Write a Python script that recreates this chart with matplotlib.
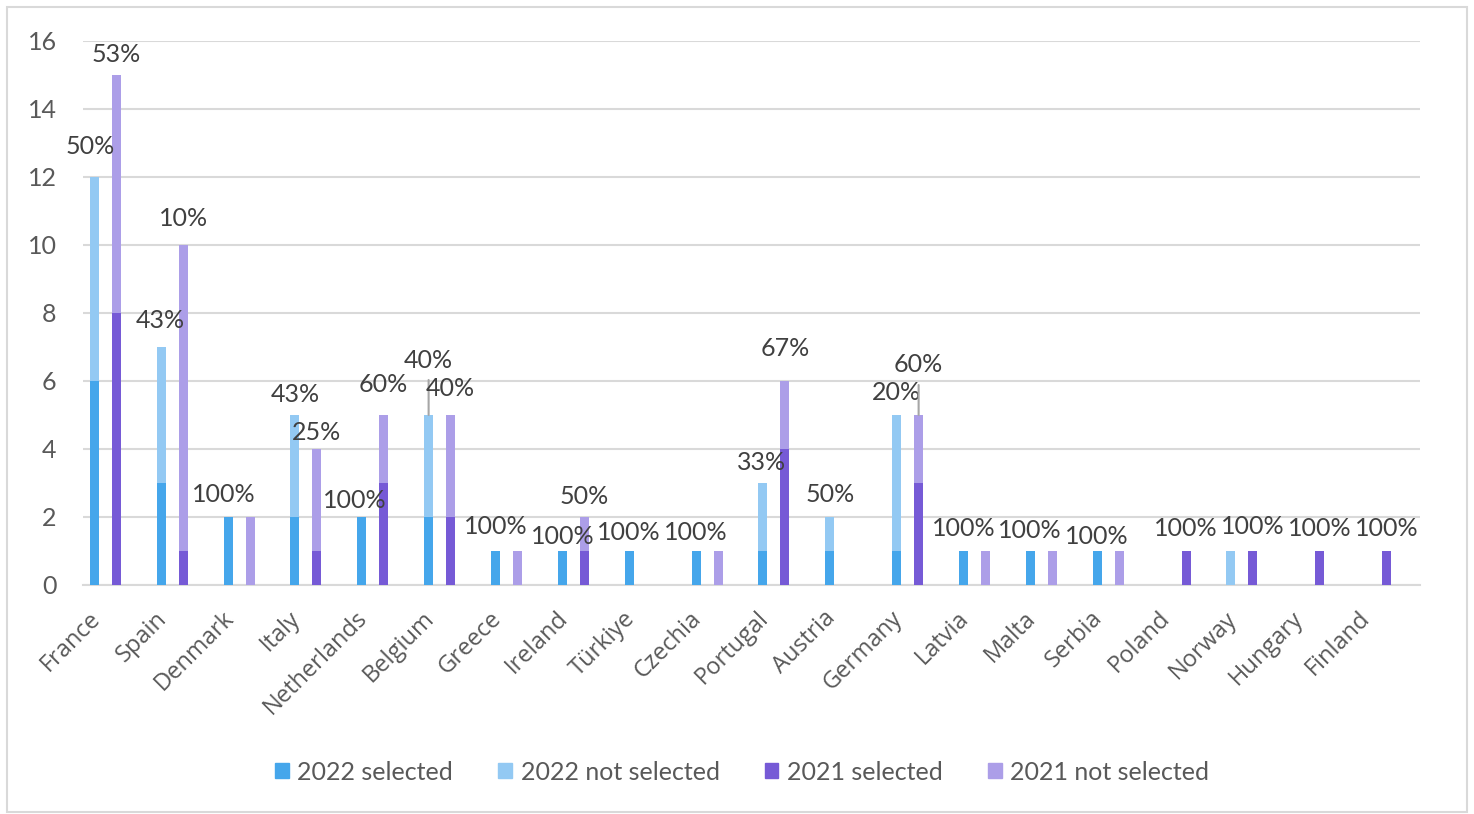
import matplotlib
matplotlib.use("Agg")
import matplotlib.pyplot as plt
import matplotlib.patches as mpatches
import numpy as np

countries = ["France", "Spain", "Denmark", "Italy", "Netherlands", "Belgium",
             "Greece", "Ireland", "Türkiye", "Czechia", "Portugal", "Austria",
             "Germany", "Latvia", "Malta", "Serbia", "Poland", "Norway",
             "Hungary", "Finland"]

sel_2022 = [6, 3, 2, 2, 2, 2, 1, 1, 1, 1, 1, 1, 1, 1, 1, 1, 0, 0, 0, 0]
not_2022 = [6, 4, 0, 3, 0, 3, 0, 0, 0, 0, 2, 1, 4, 0, 0, 0, 0, 1, 0, 0]
sel_2021 = [8, 1, 0, 1, 3, 2, 0, 1, 0, 0, 4, 0, 3, 0, 0, 0, 1, 1, 1, 1]
not_2021 = [7, 9, 2, 3, 2, 3, 1, 1, 0, 1, 2, 0, 2, 1, 1, 1, 0, 0, 0, 0]

labels_2022 = ["50%", "43%", "100%", "43%", "100%", "40%", "100%", "100%", "100%", "100%",
               "33%", "50%", "20%", "100%", "100%", "100%", "", "", "", ""]
labels_2021 = ["53%", "10%", "", "25%", "60%", "40%", "", "50%", "", "",
               "67%", "", "60%", "", "", "", "100%", "100%", "100%", "100%"]

# label offsets from bar top, in pixels (dx, dy)
off_2022 = [(-4, 30), (-1, 27), (-4, 22), (0, 20), (-7, 17), (0, 55), (0, 24), (0, 14),
            (0, 19), (0, 19), (-1, 20), (0, 23), (0, 23), (0, 22), (0, 21), (0, 14),
            (0, 0), (0, 0), (0, 0), (0, 0)]
off_2021 = [(0, 21), (0, 27), (0, 0), (0, 17), (-1, 30), (0, 26), (0, 0), (0, 20),
            (0, 0), (0, 0), (0, 32), (0, 0), (0, 50), (0, 0), (0, 0), (0, 0),
            (0, 22), (0, 24), (0, 22), (0, 22)]
leader_2022 = [5]
leader_2021 = [12]

C_SEL22 = "#45A6EB"
C_NOT22 = "#93C9F3"
C_SEL21 = "#765AD6"
C_NOT21 = "#AC9EE8"
TXT = "#404040"
AX_TXT = "#595959"
GRID = "#D9D9D9"

W, H = 1474, 814
fig = plt.figure(figsize=(W / 100, H / 100), dpi=100)
ax = fig.add_axes([83 / W, (H - 585) / H, (1420 - 83) / W, (585 - 41) / H])

x = np.arange(len(countries))
bw = 0.135
x22 = x - 0.33
x21 = x

ax.bar(x22, sel_2022, bw, color=C_SEL22, zorder=3, label="2022 selected")
ax.bar(x22, not_2022, bw, bottom=sel_2022, color=C_NOT22, zorder=3, label="2022 not selected")
ax.bar(x21, sel_2021, bw, color=C_SEL21, zorder=3, label="2021 selected")
ax.bar(x21, not_2021, bw, bottom=sel_2021, color=C_NOT21, zorder=3, label="2021 not selected")

tot22 = np.array(sel_2022) + np.array(not_2022)
tot21 = np.array(sel_2021) + np.array(not_2021)

pct_font = dict(family="Lato", fontsize=18, color=TXT)
for xs, tots, labs, offs, leaders in [(x22, tot22, labels_2022, off_2022, leader_2022),
                                      (x21, tot21, labels_2021, off_2021, leader_2021)]:
    for i, lab in enumerate(labs):
        if not lab:
            continue
        dx, dy = offs[i]
        ax.annotate(lab, (xs[i], tots[i]), xytext=(dx, dy), textcoords="offset pixels",
                    ha="center", va="center", zorder=4, **pct_font)
        if i in leaders:
            ax.annotate("", (xs[i], tots[i]), xytext=(0, dy - 20), textcoords="offset pixels",
                        arrowprops=dict(arrowstyle="-", color="#A6A6A6", lw=1.5,
                                        shrinkA=0, shrinkB=0), zorder=4)

ax.set_xlim(-0.5, len(countries) - 0.5)
ax.set_ylim(0, 16)
ax.set_yticks(range(0, 17, 2))
ax.yaxis.grid(True, color=GRID, lw=1.5, zorder=0)
ax.set_axisbelow(True)
for s in ["top", "right", "left"]:
    ax.spines[s].set_visible(False)
ax.spines["bottom"].set_color(GRID)
ax.spines["bottom"].set_linewidth(1.5)
ax.tick_params(axis="y", length=0, pad=19, labelsize=18, labelcolor=AX_TXT)
ax.tick_params(axis="x", length=0)
ax.set_xticks([])
for lab in ax.get_yticklabels():
    lab.set_family("Lato")

for i, name in enumerate(countries):
    ax.annotate(name, (x[i], 0), xytext=(-20, -30), textcoords="offset pixels",
                rotation=45, rotation_mode="anchor", ha="right", va="center",
                family="Open Sans", fontsize=17, color=AX_TXT, annotation_clip=False)

handles = [mpatches.Patch(color=c) for c in [C_SEL22, C_NOT22, C_SEL21, C_NOT21]]
names = ["2022 selected", "2022 not selected", "2021 selected", "2021 not selected"]
fig.legend(handles, names, loc="center", bbox_to_anchor=(742 / W, 1 - 772 / H), ncol=4,
           frameon=False, handlelength=0.55, handleheight=0.55, handletextpad=0.35,
           columnspacing=1.8, prop=dict(family="Lato", size=18), labelcolor=AX_TXT)

border = mpatches.Rectangle((7 / W, 2 / H), (1467 - 7) / W, (H - 9) / H, transform=fig.transFigure,
                            fill=False, edgecolor=GRID, lw=1.5)
fig.patches.append(border)

fig.savefig("out.png", dpi=100)
